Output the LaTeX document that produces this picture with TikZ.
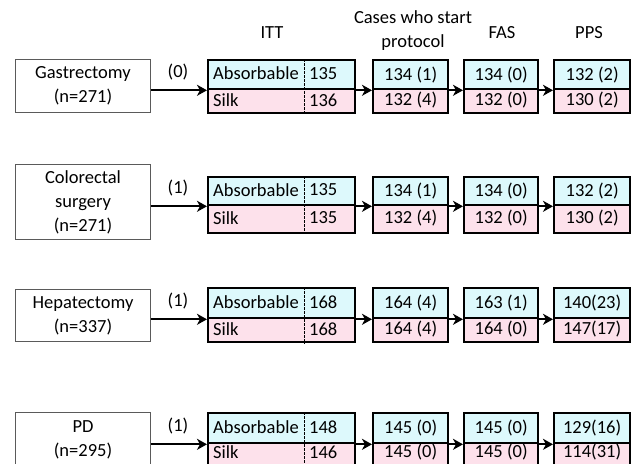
\documentclass[tikz,border=0pt]{standalone}
\usepackage{fontspec}
\setmainfont{Carlito}
\usetikzlibrary{arrows.meta}
\definecolor{cyancell}{RGB}{221,249,252}
\definecolor{pinkcell}{RGB}{253,225,235}
\definecolor{leftborder}{RGB}{90,90,90}
\begin{document}
\begin{tikzpicture}[x=1pt,y=-1pt,
  font=\fontsize{18.5}{24}\selectfont,
  leftbox/.style={draw=leftborder, line width=1pt, fill=white, align=center, inner sep=0pt, anchor=north west, minimum width=135pt},
  cellA/.style={draw=black, line width=2.3pt, fill=cyancell, inner sep=0pt, anchor=north west},
  cellS/.style={draw=black, line width=2.3pt, fill=pinkcell, inner sep=0pt, anchor=north west},
  txt/.style={inner sep=0pt, anchor=west},
  divider/.style={draw=black, line width=0.6pt, dash pattern=on 2.5pt off 1.5pt},
  arr/.style={draw=black, line width=2.3pt, -{Stealth[length=10pt,width=11pt,inset=3pt]}},
  head/.style={align=center, inner sep=0pt}
]
\useasboundingbox (0,0) rectangle (631,463);
\clip (0,0) rectangle (631,463);

\node[head] (hITT) at (272,33) {ITT};
\node[head] (hCS) at (413,31) {Cases who start\\protocol};
\node[head] (hFAS) at (502,33) {FAS};
\node[head] (hPPS) at (589,33) {PPS};

\foreach \r/\t/\m/\b/\sy/\lt/\lb/\lab/\loss/\ia/\is/\ba/\bs/\ca/\cs/\da/\ds in {
  1/59/88/112/100/59/112/{Gastrectomy\\(n=271)}/{(0)}/135/136/{134 (1)}/{132 (4)}/{134 (0)}/{132 (0)}/{132 (2)}/{130 (2)},
  2/176/204/232/218/164/239/{Colorectal\\surgery\\(n=271)}/{(1)}/135/135/{134 (1)}/{132 (4)}/{134 (0)}/{132 (0)}/{132 (2)}/{130 (2)},
  3/287/317/341/329/289/341/{Hepatectomy\\(n=337)}/{(1)}/168/168/{164 (4)}/{164 (4)}/{163 (1)}/{164 (0)}/{140(23)}/{147(17)},
  4/412/442/466/452/412/466/{PD\\(n=295)}/{(1)}/148/146/{145 (0)}/{145 (0)}/{145 (0)}/{145 (0)}/{129(16)}/{114(31)}}
{
  \node[leftbox, minimum height={(\lb-\lt)*1pt}] (L\r) at (15,\lt) {\lab};
  % ITT column
  \node[cellA, minimum width=147pt, minimum height={(\m-\t)*1pt}] (T\r-1) at (207,\t) {};
  \node[cellS, minimum width=147pt, minimum height={(\b-\m)*1pt}] (B\r-1) at (207,\m) {};
  \draw[divider] ([xshift=97pt]T\r-1.north west) -- ([xshift=97pt]B\r-1.south west);
  \node[txt] (At\r) at (213,{(\t+\m)/2}) {Absorbable};
  \node[txt] (An\r) at (309,{(\t+\m)/2}) {\ia};
  \node[txt] (St\r) at (213,\sy) {Silk};
  \node[txt] (Sn\r) at (309,\sy) {\is};
  % other columns
  \foreach \c/\x/\w/\va/\vs in {2/372/75/\ba/\bs, 3/463/74/\ca/\cs, 4/553/76/\da/\ds}{
    \node[cellA, minimum width=\w pt, minimum height={(\m-\t)*1pt}] (T\r-\c) at (\x,\t) {};
    \node[cellS, minimum width=\w pt, minimum height={(\b-\m)*1pt}] (B\r-\c) at (\x,\m) {};
    \node[inner sep=0pt] (TV\r-\c) at (T\r-\c.center) {\va};
    \node[inner sep=0pt] (BV\r-\c) at (B\r-\c.center |- 0,\sy) {\vs};
  }
  % arrows
  \draw[arr] (L\r.east |- T\r-1.south) -- (T\r-1.south west);
  \foreach \p/\c in {1/2, 2/3, 3/4}{
    \draw[arr] (T\r-\p.south east) -- (T\r-\c.south west);
  }
  \node[inner sep=0pt] (loss\r) at (178,{\m-16}) {\loss};
}
\end{tikzpicture}
\end{document}
